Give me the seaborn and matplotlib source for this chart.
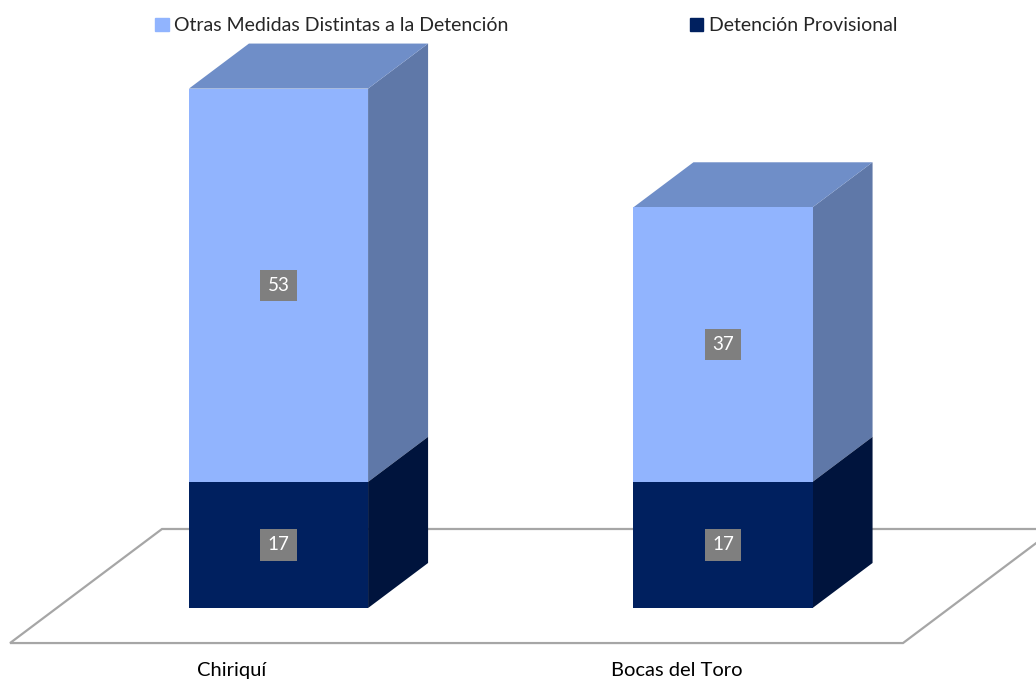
import matplotlib
matplotlib.use("Agg")
import matplotlib.pyplot as plt
from matplotlib.patches import Polygon, Patch
import seaborn as sns
import pandas as pd

# datos
regiones = ["Chiriquí", "Bocas del Toro"]
detencion = [17, 17]
otras = [53, 37]
series = ["Otras Medidas Distintas a la Detención", "Detención Provisional"]

sns.set_style("white")
plt.rcParams["font.family"] = ["Lato", "DejaVu Sans"]

df = pd.DataFrame({"region": regiones, "detencion": detencion, "otras": otras})
df["total"] = df["detencion"] + df["otras"]

# colores
claro, claro_lado, claro_tope = "#91b4fe", "#5f78a8", "#6f8ec8"
oscuro, oscuro_lado = "#00205f", "#00143d"
dx, dy = 0.135, 6.07  # profundidad 3D
ancho = 0.403

fig = plt.figure(figsize=(10.36, 6.82), dpi=100)
ax = fig.add_axes([0, 0, 1, 1])

# piso
piso_frente, piso_fondo = -4.72, 10.65
sx = (piso_fondo - piso_frente) / dy * dx
izq, der = -0.604, 1.405
piso = Polygon([(izq, piso_frente), (der, piso_frente),
                (der + sx, piso_fondo), (izq + sx, piso_fondo)],
               closed=True, fc="white", ec="#a6a6a6", lw=1.6, zorder=1)
ax.add_patch(piso)

sns.barplot(data=df, x="region", y="total", color=claro, width=ancho,
            saturation=1, errorbar=None, linewidth=0, ax=ax, zorder=3)
sns.barplot(data=df, x="region", y="detencion", color=oscuro, width=ancho,
            saturation=1, errorbar=None, linewidth=0, ax=ax, zorder=3)

barras = ax.patches[1:]  # sin el piso
n = len(regiones)
for i in range(n):
    p = barras[i]
    x0 = p.get_x()
    x1 = x0 + p.get_width()
    tot = p.get_height()
    d = barras[n + i].get_height()
    # lado claro
    ax.add_patch(Polygon([(x1, d), (x1 + dx, d + dy), (x1 + dx, tot + dy), (x1, tot)],
                         closed=True, fc=claro_lado, ec="none", zorder=2))
    # lado oscuro
    ax.add_patch(Polygon([(x1, 0), (x1 + dx, dy), (x1 + dx, d + dy), (x1, d)],
                         closed=True, fc=oscuro_lado, ec="none", zorder=2.5))
    # tapa
    ax.add_patch(Polygon([(x0, tot), (x0 + dx, tot + dy), (x1 + dx, tot + dy), (x1, tot)],
                         closed=True, fc=claro_tope, ec="none", zorder=2))
    # etiquetas
    cx = x0 + p.get_width() / 2
    for val, y in [(detencion[i], d / 2), (otras[i], d + (tot - d) / 2)]:
        ax.text(cx, y, str(val), ha="center", va="center", color="white", fontsize=13.5,
                zorder=5, bbox=dict(boxstyle="square,pad=0.38", fc="#7f7f7f", ec="none"))
    ax.text(i - 0.778 * dx, -8.4, regiones[i], ha="center", va="center",
            fontsize=14.5, color="black")

ax.set_xlim(-0.6266, 1.7042)
ax.set_ylim(-9.97, 81.94)
ax.axis("off")

fig.legend(handles=[Patch(color=claro), Patch(color=oscuro)], labels=series,
           ncol=2, loc="upper center", bbox_to_anchor=(0.508, 1.0), frameon=False,
           handlelength=0.7, handleheight=0.7, handletextpad=0.3, columnspacing=9.3,
           fontsize=14)

fig.savefig("out.png", dpi=100)
